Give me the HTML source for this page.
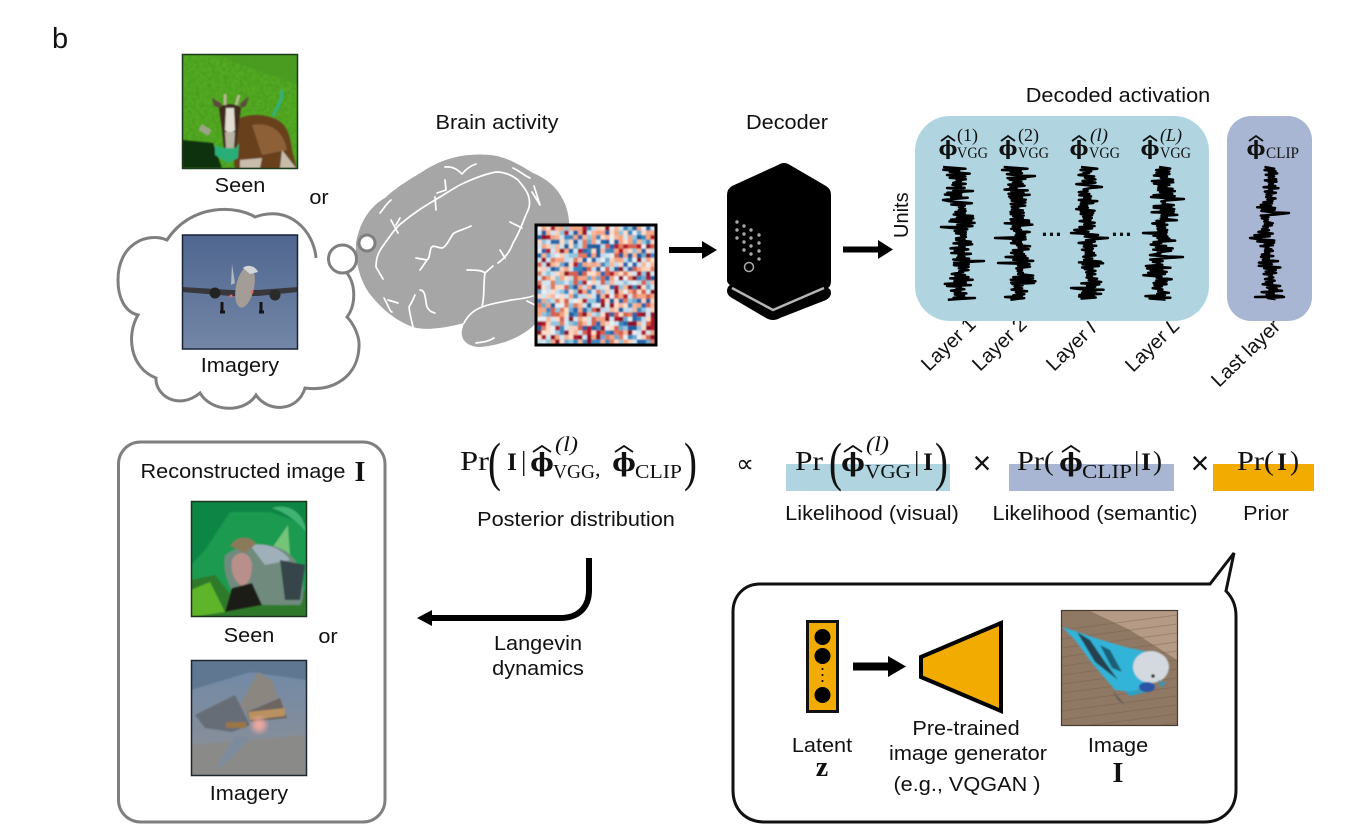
<!DOCTYPE html>
<html>
<head>
<meta charset="utf-8">
<style>
html,body{margin:0;padding:0;background:#fff;width:1355px;height:830px;overflow:hidden}
svg{display:block}
text{font-family:"Liberation Sans",Arial,sans-serif;fill:#111;font-size:20px}
.m{text-anchor:middle;transform-box:fill-box;transform-origin:center;transform:scaleX(1.085)}
.n{text-anchor:middle}
.s{font-family:"Liberation Serif",serif}
.b{font-family:"Liberation Serif",serif;font-weight:bold;text-anchor:middle}
.sub{font-family:"Liberation Serif",serif;font-size:16px}
.sup{font-family:"Liberation Serif",serif;font-size:18px}
.ph{font-family:"DejaVu Serif",serif;font-weight:bold;font-size:20px;text-anchor:middle}
.ph2{font-family:"DejaVu Serif",serif;font-weight:bold;font-size:25px;text-anchor:middle}
.eq{font-family:"Liberation Serif",serif;font-size:27px}
.par{font-family:"Liberation Serif",serif;font-size:54px}
.hat{fill:none;stroke:#111;stroke-width:1.800}
.x{font-size:32px;text-anchor:middle}
</style>
</head>
<body>
<svg width="1355" height="830" viewBox="0 0 1355 830" xmlns="http://www.w3.org/2000/svg">
<defs>
<filter id="b1" x="-10%" y="-10%" width="120%" height="120%"><feGaussianBlur stdDeviation=".8"/></filter>
<filter id="b3" x="-20%" y="-20%" width="140%" height="140%"><feGaussianBlur stdDeviation="3"/></filter>
<filter id="noise" x="0" y="0" width="100%" height="100%"><feTurbulence type="fractalNoise" baseFrequency=".25" numOctaves="2" seed="4"/><feColorMatrix values="0 0 0 0 0  0 0 0 0 .1  0 0 0 0 0  1.600 0 0 0 -.550"/></filter>
<linearGradient id="sky" x1="0" y1="0" x2="0" y2="1"><stop offset="0" stop-color="#4f668f"/><stop offset="1" stop-color="#7386a6"/></linearGradient>
<linearGradient id="ri" x1="0" y1="0" x2="0" y2="1"><stop offset="0" stop-color="#6f89a8"/><stop offset="1" stop-color="#8f9094"/></linearGradient>
<clipPath id="c1"><rect x="182" y="54" width="116" height="114"/></clipPath>
<clipPath id="c2"><rect x="182" y="235" width="116" height="114"/></clipPath>
<clipPath id="c3"><rect x="191" y="501" width="116" height="116"/></clipPath>
<clipPath id="c4"><rect x="191" y="660" width="116" height="116"/></clipPath>
<clipPath id="c5"><rect x="1062" y="611" width="115" height="114"/></clipPath>
</defs>

<text x="52" y="48" style="font-size:29px">b</text>

<!-- goat -->
<g clip-path="url(#c1)">
<rect x="182" y="54" width="116" height="114" fill="#54a922"/>
<rect x="182" y="54" width="116" height="114" filter="url(#noise)" opacity=".2"/>
<g filter="url(#b1)">
<path d="M182,54H298V85L255,70L215,54Z" fill="#479a1e" opacity=".8"/>
<path d="M182,140L213,143L222,168H182Z" fill="#0c3308"/>
<path d="M240,118C252,113 265,115 273,118C285,122 290,132 292,150C294,158 296,165 297,170H235C232,150 232,130 240,118Z" fill="#67401f"/>
<path d="M252,125C270,122 283,130 287,150L262,155Z" fill="#8d6039"/>
<path d="M240,160L262,158L260,168H240ZM282,150L296,168H280Z" fill="#c8bdaa"/>
<path d="M219,108C222,103 238,103 241,108L238,130L236,150H224L222,130Z" fill="#3f2c1c"/>
<path d="M226,108H234L235,130C233,133 227,133 225,130Z" fill="#e0ddd2"/>
<path d="M225,132H235L234,148H226Z" fill="#b9b3a3"/>
<path d="M212,98L222,104L220,108L214,106Z" fill="#5c4c3c"/><path d="M249,96L240,104L241,108L246,106Z" fill="#5c4c3c"/>
<path d="M225,105L225,94M236,105L239,95" stroke="#bdb596" stroke-width="3" fill="none"/>
<path d="M215,145L222,148L236,148L239,143L238,158L228,163L215,155Z" fill="#2cae78"/>
<path d="M282,90L281,100L273,116" stroke="#2fb08c" stroke-width="3" fill="none"/>
<path d="M200,127L210,133" stroke="#9aa585" stroke-width="7"/>
</g>
</g>
<rect x="182.500" y="54.500" width="115" height="114" fill="none" stroke="#1c3b1c" stroke-width="1.500"/>

<text x="240" y="192" class="m">Seen</text>
<text x="319" y="204" class="m">or</text>
<text x="497" y="129" class="m">Brain activity</text>
<text x="787" y="129" class="m">Decoder</text>
<text x="1118" y="102" class="m">Decoded activation</text>

<!-- cloud -->
<path d="M316,258C314,232 290,204 255,217C238,206 192,202 167,240C148,232 118,243 118,280C118,298 125,312 138,315C126,335 130,368 156,378C155,395 178,411 200,393C212,413 245,413 256,395C268,413 298,412 305,388C335,392 358,375 359,347C360,335 352,322 347,317C356,305 356,285 347,273" fill="#fff" stroke="#7f7f7f" stroke-width="3"/>

<!-- plane -->
<g clip-path="url(#c2)">
<rect x="182" y="235" width="116" height="114" fill="url(#sky)"/>
<path d="M182,287L232,290L258,290L298,287V292L258,296L232,296L182,292Z" fill="#38383c"/>
<ellipse cx="245" cy="287" rx="9" ry="21" fill="#a49d97" transform="rotate(12 245 287)"/>
<path d="M243,268C247,264 256,266 258,272L250,274Z" fill="#d3d6d9"/>
<path d="M232,264L235,283L231,285Z" fill="#b3b8bf"/>
<circle cx="215" cy="293" r="5.500" fill="#222"/><circle cx="275" cy="295" r="5.500" fill="#2a2a2a"/>
<path d="M222,302V312M220,312H225M261,302V312M259,312H264" stroke="#151515" stroke-width="3" fill="none"/>
<circle cx="231" cy="296" r="1.500" fill="#e66"/><circle cx="252" cy="292" r="1.500" fill="#e66"/>
</g>
<rect x="182.500" y="235" width="115" height="114" fill="none" stroke="#1a2238" stroke-width="1.500"/>
<text x="240" y="372" class="m">Imagery</text>

<!-- brain -->
<path d="M356,243C360,220 372,205 385,198C395,188 412,178 430,167C448,157 468,153 490,155C505,156 520,165 533,173C545,178 556,186 562,198C568,208 570,220 569,235L560,345L536,323C525,335 505,345 480,347C468,347 460,340 462,330L464,323C445,328 425,331 413,327C398,322 382,310 369,293C360,280 355,262 356,243Z" fill="#a6a6a6"/>
<g fill="none" stroke="#fff" stroke-width="1.700" stroke-linecap="round" stroke-linejoin="round">
<path d="M376,267C376,255 380,250 385,243C393,232 397,226 403,222C415,212 425,206 435,200C447,193 455,187 464,183C475,178 485,174 496,172C505,172 513,176 518,180C523,186 528,192 529,198C531,207 527,212 525,217C522,225 518,235 513,243C510,252 505,258 498,263"/>
<path d="M464,323C468,315 474,310 482,307C492,303 503,302 511,300C520,299 527,298 533,296"/>
<path d="M482,307C485,295 483,285 485,273C482,270 474,270 467,270M485,273L493,266"/>
<path d="M471,226C463,230 456,231 453,234C449,240 446,247 442,248C437,248 433,244 431,248C429,254 430,258 427,260C424,264 422,268 420,270M427,260L416,258"/>
<path d="M445,167C453,166 458,170 462,174C466,169 470,166 476,164M513,168C518,170 525,176 530,178M534,186L540,205L532,192"/>
<path d="M445,180L446,190L437,193M435,197L436,210"/>
<path d="M391,200C385,205 383,210 380,213M391,220L398,233M396,225L400,218"/>
<path d="M420,290C426,290 425,300 427,307C430,312 432,312 435,313M409,307C413,300 415,295 415,295M409,307C410,316 412,322 413,327"/>
<path d="M376,267L383,279M384,298C388,305 390,312 392,312M388,300L398,303"/>
<path d="M510,222L522,228M500,250L505,258M527,301L541,308"/>
<path d="M476,343C482,342 488,342 494,338"/>
</g>
<circle cx="342.500" cy="259" r="14" fill="#fff" stroke="#7f7f7f" stroke-width="3"/>
<circle cx="367" cy="243" r="8" fill="#fff" stroke="#7f7f7f" stroke-width="3"/>

<!-- heatmap -->
<rect x="535" y="224" width="122" height="122" fill="#fbe0d3"/>
<g id="heat" filter="url(#b1)"></g>
<rect x="536" y="225" width="120" height="120" fill="none" stroke="#000" stroke-width="3"/>

<!-- arrows -->
<path d="M669,247H702V241L717,250L702,259V253H669Z" fill="#000"/>
<path d="M843,246.500H878V240L893,249.500L878,259V252.500H843Z" fill="#000"/>

<!-- decoder -->
<path d="M778,165Q784,161 790,165L826,186Q831,189 831,195V281Q831,286 828,288Q831,289 831,293Q831,297 826,300L780,318Q773,322 766,318L732,298Q727,295 727,291Q727,287 730,285Q727,283 727,280V195Q727,189 732,186Z" fill="#000"/>
<path d="M732,288L773,310L824,288" fill="none" stroke="#b5b5b5" stroke-width="2.500"/>
<g fill="#a8a8a8"><circle cx="737" cy="222" r="1.700"/><circle cx="744" cy="226" r="1.700"/><circle cx="751" cy="230" r="1.700"/><circle cx="759" cy="235" r="1.700"/><circle cx="737" cy="230" r="1.700"/><circle cx="744" cy="234" r="1.700"/><circle cx="751" cy="238" r="1.700"/><circle cx="759" cy="243" r="1.700"/><circle cx="737" cy="238" r="1.700"/><circle cx="744" cy="242" r="1.700"/><circle cx="751" cy="246" r="1.700"/><circle cx="759" cy="251" r="1.700"/><circle cx="744" cy="250" r="1.700"/><circle cx="751" cy="254" r="1.700"/><circle cx="759" cy="259" r="1.700"/></g>
<circle cx="749" cy="267" r="4.500" fill="none" stroke="#a8a8a8" stroke-width="1.500"/>

<text transform="translate(908,238) rotate(-90)">Units</text>

<!-- rotated labels (below panels) -->
<text transform="translate(929,372) rotate(-44)">Layer 1</text>
<text transform="translate(980,372) rotate(-44)">Layer 2</text>
<text transform="translate(1054,372) rotate(-44)">Layer <tspan font-style="italic">l</tspan></text>
<text transform="translate(1133,373) rotate(-44)">Layer <tspan font-style="italic">L</tspan></text>
<text transform="translate(1219,388) rotate(-44)">Last layer</text>

<rect x="915" y="116" width="294" height="205" rx="35" fill="#b0d5e1"/>
<rect x="1227" y="116" width="85" height="205" rx="24" fill="#a9b6d3"/>

<text x="948" y="155" class="ph">&#981;</text><path class="hat" d="M941,141L948,136L955,141"/><text x="957" y="158" class="sub" textLength="31" lengthAdjust="spacingAndGlyphs">VGG</text><text x="957" y="141" class="sup" textLength="21" lengthAdjust="spacingAndGlyphs">(1)</text>
<text x="1008" y="155" class="ph">&#981;</text><path class="hat" d="M1001,141L1008,136L1015,141"/><text x="1018" y="158" class="sub" textLength="31" lengthAdjust="spacingAndGlyphs">VGG</text><text x="1018" y="141" class="sup" textLength="21" lengthAdjust="spacingAndGlyphs">(2)</text>
<text x="1079" y="155" class="ph">&#981;</text><path class="hat" d="M1072,141L1079,136L1086,141"/><text x="1089" y="158" class="sub" textLength="31" lengthAdjust="spacingAndGlyphs">VGG</text><text x="1090" y="141" class="sup" font-style="italic" textLength="18" lengthAdjust="spacingAndGlyphs">(l)</text>
<text x="1150" y="155" class="ph">&#981;</text><path class="hat" d="M1143,141L1150,136L1157,141"/><text x="1160" y="158" class="sub" textLength="31" lengthAdjust="spacingAndGlyphs">VGG</text><text x="1160" y="141" class="sup" font-style="italic" textLength="22" lengthAdjust="spacingAndGlyphs">(L)</text>
<text x="1256" y="155" class="ph">&#981;</text><path class="hat" d="M1249,141L1256,136L1263,141"/><text x="1266" y="158" class="sub" textLength="33" lengthAdjust="spacingAndGlyphs">CLIP</text>

<g id="traces" fill="none" stroke="#000" stroke-width="2.500" stroke-linejoin="round"></g>
<text x="1052" y="236" class="n" style="font-size:22px;letter-spacing:1px;font-weight:bold">&#8230;</text>
<text x="1122" y="236" class="n" style="font-size:22px;letter-spacing:1px;font-weight:bold">&#8230;</text>

<!-- reconstructed box -->
<rect x="118.500" y="442" width="266.500" height="380" rx="22" fill="#fff" stroke="#7f7f7f" stroke-width="3"/>
<text x="243" y="478" class="m">Reconstructed image</text>
<text x="360" y="481" class="b" style="font-size:28px">I</text>

<g clip-path="url(#c3)">
<rect x="191" y="501" width="116" height="116" fill="#1c9a50"/>
<g filter="url(#b1)">
<path d="M191,501H307V525L270,512H230L205,550L191,565Z" fill="#0d8545"/>
<path d="M272,508C288,503 304,512 306,532C296,520 285,512 272,508Z" fill="#3fb372"/>
<path d="M272,548L288,525L290,555Z" fill="#75c478"/>
<path d="M191,580L215,575L235,600L260,605L307,590V617H191Z" fill="#2f7a2a"/>
<path d="M191,590L210,582L225,612L191,617Z" fill="#5fb52c"/>
<path d="M225,555C245,540 280,540 295,560C305,575 305,600 300,605L265,605L240,600C228,590 222,570 225,555Z" fill="#6f8b7d"/>
<path d="M250,545C265,542 282,548 290,560L265,565Z" fill="#9fb0bb"/>
<path d="M280,560L305,565L300,600L285,600Z" fill="#34444a"/>
<path d="M232,560C237,550 250,550 252,565C252,578 247,586 242,586C235,582 230,572 232,560Z" fill="#b98f8b"/>
<path d="M230,546C235,535 252,535 256,544L245,553Z" fill="#8b7a5a"/>
<path d="M232,588L252,583L262,605L225,612Z" fill="#1a1a12"/>
</g>
</g>
<rect x="191.500" y="501.500" width="115" height="115" fill="none" stroke="#1c3320" stroke-width="1.500"/>
<text x="249" y="642" class="m">Seen</text>
<text x="328" y="643" class="m">or</text>

<g clip-path="url(#c4)">
<rect x="191" y="660" width="116" height="116" fill="url(#ri)"/>
<g filter="url(#b1)">
<path d="M191,660H307V680L250,672L191,690Z" fill="#5f7790"/>
<path d="M191,745L307,735V776H191Z" fill="#8a8a88"/>
<path d="M195,715L235,695L245,715L250,725L232,732L205,728Z" fill="#666d76"/>
<path d="M240,705L258,672L272,680L278,698L245,712Z" fill="#8b8680"/>
<path d="M247,712L280,698L287,718L250,722Z" fill="#6d655e"/>
<path d="M248,712L285,708V716L250,720Z" fill="#b99060"/>
<path d="M226,722H246V728H226Z" fill="#9a7444"/>
<path d="M215,770L235,735L250,738L230,760Z" fill="#7d8c9c"/>
</g>
<circle cx="259" cy="725" r="7" fill="#f2a8a0" filter="url(#b3)"/>
</g>
<rect x="191.500" y="660.500" width="115" height="115" fill="none" stroke="#1e2630" stroke-width="1.500"/>
<text x="249" y="800" class="m">Imagery</text>

<!-- equation 1 -->
<text x="460" y="470" class="eq" textLength="29" lengthAdjust="spacingAndGlyphs">Pr</text>
<text x="488" y="480" class="par" transform="translate(488 0) scale(.72 1) translate(-488 0)">(</text>
<text x="512" y="470" class="b" style="font-size:25px">I</text>
<text x="521" y="470" class="eq">|</text>
<text x="542" y="471" class="ph2">&#981;</text><path class="hat" d="M533,452L542,446L551,452"/>
<text x="553" y="478" class="sub" style="font-size:20px" textLength="42" lengthAdjust="spacingAndGlyphs">VGG</text>
<text x="555" y="451" class="sup" style="font-size:21px;font-style:italic" textLength="23" lengthAdjust="spacingAndGlyphs">(l)</text>
<text x="595" y="476" class="eq" style="font-size:22px">,</text>
<text x="624" y="471" class="ph2">&#981;</text><path class="hat" d="M615,452L624,446L633,452"/>
<text x="635" y="478" class="sub" style="font-size:20px" textLength="47" lengthAdjust="spacingAndGlyphs">CLIP</text>
<text x="684" y="480" class="par" transform="translate(684 0) scale(.72 1) translate(-684 0)">)</text>

<text x="745" y="472" class="n" style="font-family:'DejaVu Sans',sans-serif;font-size:25px">&#8733;</text>

<rect x="786" y="464" width="164" height="27" fill="#b0d5e1"/>
<rect x="1009" y="464" width="165" height="27" fill="#a9b6d3"/>
<rect x="1213" y="464" width="101" height="27" fill="#f2ab00"/>

<text x="795" y="470" class="eq" textLength="28" lengthAdjust="spacingAndGlyphs">Pr</text>
<text x="829" y="480" class="par" transform="translate(829 0) scale(.72 1) translate(-829 0)">(</text>
<text x="853" y="471" class="ph2">&#981;</text><path class="hat" d="M844,452L853,446L862,452"/>
<text x="865" y="478" class="sub" style="font-size:20px" textLength="46" lengthAdjust="spacingAndGlyphs">VGG</text>
<text x="866" y="451" class="sup" style="font-size:21px;font-style:italic" textLength="23" lengthAdjust="spacingAndGlyphs">(l)</text>
<text x="914" y="470" class="eq">|</text>
<text x="928" y="470" class="b" style="font-size:25px">I</text>
<text x="935" y="480" class="par" transform="translate(935 0) scale(.72 1) translate(-935 0)">)</text>

<text x="982" y="474" class="x">&#215;</text>

<text x="1017" y="470" class="eq" textLength="37" lengthAdjust="spacingAndGlyphs">Pr(</text>
<text x="1071" y="471" class="ph2">&#981;</text><path class="hat" d="M1062,452L1071,446L1080,452"/>
<text x="1082" y="478" class="sub" style="font-size:20px" textLength="50" lengthAdjust="spacingAndGlyphs">CLIP</text>
<text x="1134" y="470" class="eq">|</text>
<text x="1146" y="470" class="b" style="font-size:25px">I</text>
<text x="1153" y="470" class="eq">)</text>

<text x="1200" y="474" class="x">&#215;</text>

<text x="1237" y="470" class="eq" textLength="37" lengthAdjust="spacingAndGlyphs">Pr(</text>
<text x="1282" y="470" class="b" style="font-size:25px">I</text>
<text x="1290" y="470" class="eq">)</text>

<text x="576" y="526" class="m">Posterior distribution</text>
<text x="872" y="520" class="m">Likelihood (visual)</text>
<text x="1095" y="520" class="m">Likelihood (semantic)</text>
<text x="1266" y="520" class="m">Prior</text>

<!-- langevin arrow -->
<path d="M589,558V590C589,608 578,618 560,618H428" fill="none" stroke="#000" stroke-width="6"/>
<path d="M417,618L432,610V626Z" fill="#000"/>
<text x="538" y="650" class="m">Langevin</text>
<text x="538" y="675" class="m">dynamics</text>

<!-- speech bubble -->
<path d="M760,584H1210L1234,553L1226,591C1233,598 1236,606 1236,616V790C1236,810 1222,822 1204,822H765C746,822 733,810 733,790V612C733,595 745,584 760,584Z" fill="#fff" stroke="#111" stroke-width="3"/>

<rect x="807.500" y="621.500" width="30" height="90" fill="#f2ab00" stroke="#111" stroke-width="3"/>
<circle cx="822.500" cy="637" r="8" fill="#000"/>
<circle cx="822.500" cy="656" r="8" fill="#000"/>
<circle cx="822.500" cy="695" r="8" fill="#000"/>
<circle cx="822.500" cy="669" r="1" fill="#000"/><circle cx="822.500" cy="675" r="1" fill="#000"/><circle cx="822.500" cy="681" r="1" fill="#000"/>
<path d="M853,662.500H888V656L906,666.500L888,677V670.500H853Z" fill="#000"/>
<path d="M921,657L1001,623V711L921,677Z" fill="#f2ab00" stroke="#000" stroke-width="4"/>

<g clip-path="url(#c5)">
<rect x="1062" y="611" width="115" height="114" fill="#8f7864"/>
<path d="M1062,611H1177V660L1130,630L1090,611Z" fill="#b59a85"/>
<g stroke="#6f5a48" stroke-width="1" opacity=".35" id="weave"></g>
<g filter="url(#b1)">
<path d="M1062,627L1075,631L1095,638L1125,647L1149,652L1150,685L1132,692L1115,690L1092,663L1075,640Z" fill="#33b4d8"/>
<path d="M1077,632L1090,640L1105,662L1118,680L1095,662Z" fill="#25404e"/>
<path d="M1100,645L1110,650L1122,672L1112,668Z" fill="#1f5f75"/>
<path d="M1125,692L1140,690L1146,692L1130,696Z" fill="#2aa1c4"/>
<ellipse cx="1151" cy="667" rx="18" ry="16" fill="#d3d9de"/>
<ellipse cx="1147" cy="687" rx="8" ry="5" fill="#2b55a5"/>
<path d="M1158,680L1167,683L1160,688Z" fill="#4a90a8"/>
<circle cx="1153" cy="676" r="1.800" fill="#111"/>
<path d="M1112,690L1125,705L1118,700Z" fill="#5d5a55"/>
</g>
</g>
<rect x="1061.500" y="610.500" width="116" height="115" fill="none" stroke="#453a30" stroke-width="1.200"/>

<text x="822" y="752" class="m">Latent</text>
<text x="822" y="776" class="b" style="font-size:28px">z</text>
<text x="966" y="735" class="m">Pre-trained</text>
<text x="968" y="760" class="m">image generator</text>
<text x="967" y="791" class="m">(e.g., VQGAN )</text>
<text x="1118" y="752" class="m">Image</text>
<text x="1118" y="782" class="b" style="font-size:28px">I</text>
</svg>
<script>
(function(){
var NS="http://www.w3.org/2000/svg";
var s=12345;function R(){s=(s*1664525+1013904223)%4294967296;var t=s;t^=t>>>15;t=(t*2909)%4294967296;t^=t>>>7;return (t>>>0)/4294967296;}
var cols=["#fddbc7","#fddbc7","#f4a582","#f4a582","#f7b799","#f9d0bb","#e8eef2","#d1e5f0","#d1e5f0","#c2dcec","#92c5de","#6aa9d0","#3a87bd","#2166ac","#1a5d9e","#d6604d","#e07b5e","#b2182b","#8f1025"];
var h=document.getElementById("heat");
var N=26,c=118/N;
for(var y=0;y<N;y++)for(var x=0;x<N;x++){var r=document.createElementNS(NS,"rect");r.setAttribute("x",537+x*c);r.setAttribute("y",226+y*c);r.setAttribute("width",c+.2);r.setAttribute("height",c+.2);r.setAttribute("fill",cols[Math.floor(R()*cols.length)]);h.appendChild(r);}
var g=document.getElementById("traces");
[
 [960,11,2,[[261,984],[227,941],[188,947],[200,943],[191,973],[286,947],[298,975]]],
 [1018,12,5,[[238,995],[176,1035],[263,998],[170,1002],[283,1034],[297,1005]]],
 [1088,10,1,[[233,1071],[238,1108],[187,1102],[288,1071]]],
 [1161,12,3,[[233,1143],[199,1184],[257,1183],[197,1151]]],
 [1269,9,4,[[213,1289],[238,1250],[297,1255],[297,1284]]]
].forEach(function(c){
 var pts=[],y=167,sp=c[3].slice().sort(function(a,b){return a[0]-b[0]}),k=0,sg=1;
 while(y<300){
  sg=-sg;
  var burst=.6+.6*Math.abs(Math.sin(y*.11+c[2]));
  var a=sg*(1+R()*c[1])*burst+3*Math.sin(y*.045+c[2]*1.7);
  var x=c[0]+a;
  if(k<sp.length&&y>=sp[k][0]){x=sp[k][1];y=sp[k][0];k++;}
  pts.push(x.toFixed(1)+","+y.toFixed(1));
  y+=.7+R()*1.1;
 }
 var p=document.createElementNS(NS,"polyline");p.setAttribute("points",pts.join(" "));g.appendChild(p);
});
var w=document.getElementById("weave");
for(var i=0;i<16;i++){var l=document.createElementNS(NS,"path");l.setAttribute("d","M1062,"+(630+i*9)+"L1177,"+(615+i*9));w.appendChild(l);}
})();
</script>
</body>
</html>
